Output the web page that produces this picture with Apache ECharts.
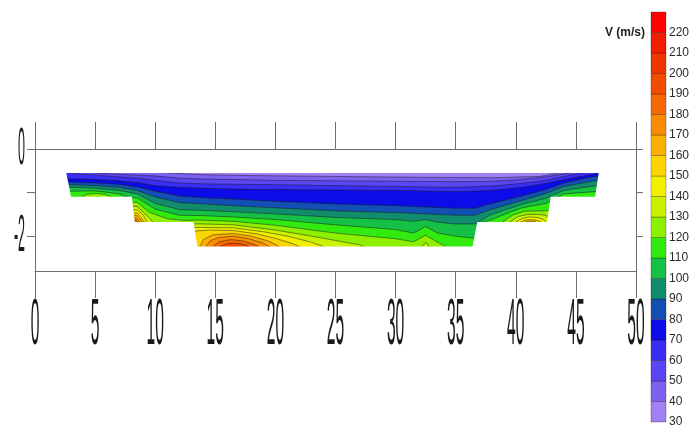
<!DOCTYPE html>
<html><head><meta charset="utf-8">
<script src="https://cdn.jsdelivr.net/npm/echarts@6/dist/echarts.min.js"></script>
<style>html,body{margin:0;padding:0;background:#fff}#c{width:692px;height:428px}</style>
</head><body><div id="c"></div>
<script>
// ---- axis ticks / labels ----
const xTicks = [0,5,10,15,20,25,30,35,40,45,50];
const yTicks = [0,-1,-2];
const yTickLabels = [0,-2];
// ---- colour levels (V, m/s) ----
const levels = [30,40,50,60,70,80,90,100,110,120,130,140,150,160,170,180,190,200,210,220];
const palette = ['#a080f4','#7c60f2','#5a46f2','#3a2ef6','#0c0ce8','#1250b4','#118c6c','#14c046','#30ea10','#8cf000',
                 '#c8f200','#f2f000','#fcd400','#fbb000','#f98c00','#f66a00','#f24c00','#f03400','#f01e00','#ff0000'];
// ---- section outline [distance, depth] ----
const section = [[2.6,-0.55],[46.9,-0.55],[46.6,-1.095],[42.9,-1.095],[42.6,-1.675],[36.8,-1.675],[36.4,-2.24],
                 [13.5,-2.24],[13.2,-1.675],[8.3,-1.675],[8.06,-1.095],[3.0,-1.095]];
// ---- contour lines [distance, depth] (region below each line has V >= level) ----
const c40 = [[0,-0.35],[10,-0.45],[11,-0.55],[14,-0.59],[18,-0.61],[25,-0.63],[32,-0.65],[38,-0.66],[42,-0.63],[43.5,-0.55],[44.5,-0.45],[50,-0.35]];
const c50 = [[0,-0.35],[4,-0.45],[5,-0.55],[7,-0.58],[8.5,-0.6],[10,-0.62],[12,-0.67],[14,-0.69],[16.5,-0.7],[20,-0.72],[25,-0.73],[30,-0.74],[35,-0.75],[38,-0.74],[40.5,-0.7],[42.5,-0.64],[44,-0.57],[44.5,-0.55],[45.5,-0.45],[50,-0.35]];
const c60 = [[0,-0.45],[2.5,-0.52],[3,-0.56],[5,-0.6],[7,-0.64],[8.5,-0.67],[10,-0.72],[12,-0.78],[14,-0.8],[16.5,-0.81],[20,-0.82],[25,-0.84],[30,-0.86],[35,-0.88],[38,-0.85],[40.5,-0.79],[42.5,-0.72],[44,-0.63],[45.5,-0.55],[46.5,-0.45],[50,-0.4]];
const c70 = [[0,-0.68],[3,-0.68],[5,-0.7],[7,-0.73],[8.5,-0.77],[10,-0.84],[12,-0.88],[14,-0.9],[16.5,-0.92],[20,-0.93],[25,-0.94],[30,-0.95],[35,-0.98],[38,-0.95],[40.5,-0.88],[42.5,-0.79],[44,-0.7],[46,-0.6],[46.8,-0.56],[47.5,-0.45],[50,-0.42]];
const c80 = [[0,-0.76],[3,-0.76],[5,-0.78],[7,-0.81],[8.5,-0.87],[10,-0.97],[12,-1.08],[14,-1.12],[16.5,-1.15],[20,-1.2],[25,-1.26],[30,-1.3],[35,-1.36],[36.6,-1.36],[38,-1.25],[40.5,-1.08],[42.5,-0.93],[44,-0.78],[46.5,-0.63],[50,-0.6]];
const c90 = [[0,-0.82],[3,-0.82],[5,-0.84],[7,-0.88],[8.5,-0.95],[10,-1.1],[12,-1.23],[14,-1.26],[16.5,-1.3],[20,-1.35],[25,-1.42],[30,-1.46],[35,-1.52],[36.6,-1.52],[38,-1.38],[40.5,-1.18],[42.5,-1.02],[44,-0.86],[46.5,-0.73],[50,-0.7]];
const c100 = [[0,-0.88],[3,-0.88],[5,-0.9],[7,-0.95],[8.5,-1.03],[10,-1.25],[12,-1.39],[14,-1.41],[16.5,-1.44],[20,-1.49],[25,-1.57],[30,-1.62],[31.5,-1.66],[32.5,-1.62],[33.5,-1.68],[35,-1.72],[36.6,-1.72],[38,-1.5],[40.5,-1.27],[42.5,-1.13],[44,-0.95],[46.5,-0.85],[50,-0.8]];
const c110 = [[0,-0.97],[3,-0.97],[5,-0.96],[7,-1.03],[7.6,-1.095],[7.9,-1.12],[8.5,-1.12],[10,-1.38],[12,-1.52],[14,-1.53],[16.5,-1.56],[20,-1.62],[25,-1.74],[30,-1.85],[31.5,-1.93],[32.5,-1.78],[33.5,-1.93],[35,-2.0],[36.6,-2.05],[37.2,-1.68],[38,-1.62],[39.5,-1.45],[40.5,-1.35],[42.5,-1.25],[44,-1.03],[46.5,-0.98],[50,-0.95]];
const c120a = [[3.6,-1.3],[3.9,-1.095],[4.3,-1.04],[5,-1.02],[5.8,-1.04],[6.3,-1.095],[6.6,-1.3]];
const c120b = [[7.9,-1.22],[8.5,-1.22],[9.5,-1.45],[11,-1.6],[12.5,-1.64],[13.5,-1.63],[16.5,-1.66],[20,-1.75],[25,-1.93],[30,-2.06],[31.5,-2.13],[32.5,-1.98],[33.5,-2.14],[34.2,-2.24],[34.5,-2.5]];
const c120c = [[38.5,-1.8],[38.9,-1.675],[39.7,-1.52],[40.7,-1.43],[41.7,-1.42],[42.4,-1.42],[42.75,-1.4],[43,-1.5]];
const c130a = [[7.9,-1.32],[8.5,-1.32],[9.0,-1.45],[9.5,-1.58],[9.8,-1.675],[10,-1.8]];
const c130b = [[13.0,-1.72],[14,-1.72],[16.5,-1.74],[20,-1.86],[23,-2.0],[25,-2.1],[27,-2.2],[27.4,-2.24],[27.6,-2.5]];
const c130v = [[32,-2.5],[32.2,-2.24],[32.5,-2.14],[32.8,-2.24],[33,-2.5]];
const c130c = [[39.2,-1.8],[39.5,-1.675],[40.2,-1.55],[41,-1.5],[41.8,-1.5],[42.4,-1.52],[42.7,-1.55],[43,-1.7]];
const c140a = [[7.9,-1.4],[8.5,-1.4],[9.0,-1.52],[9.3,-1.675],[9.5,-1.8]];
const c140b = [[13.0,-1.8],[14,-1.8],[16.5,-1.81],[19,-1.9],[21,-2.0],[23,-2.14],[24,-2.24],[24.3,-2.5]];
const c140c = [[39.8,-1.8],[40,-1.675],[40.5,-1.6],[41.1,-1.56],[41.8,-1.57],[42.3,-1.62],[42.5,-1.675],[42.7,-1.8]];
const c150a = [[7.9,-1.47],[8.5,-1.47],[8.8,-1.56],[9.1,-1.675],[9.3,-1.8]];
const c150b = [[13.1,-1.9],[13.5,-1.88],[14.5,-1.86],[16.5,-1.87],[18.5,-1.95],[20,-2.05],[21.5,-2.18],[22,-2.24],[22.3,-2.5]];
const c150c = [[40.3,-1.8],[40.4,-1.675],[40.8,-1.63],[41.3,-1.62],[41.8,-1.64],[42.1,-1.675],[42.3,-1.8]];
const c160a = [[7.9,-1.53],[8.5,-1.53],[8.75,-1.6],[8.9,-1.675],[9.1,-1.8]];
const c160b = [[13.5,-2.5],[13.7,-2.24],[14,-2.08],[14.8,-1.97],[16.5,-1.94],[18,-2.0],[19.5,-2.12],[20.3,-2.24],[20.6,-2.5]];
const c160c = [[40.6,-1.8],[40.75,-1.675],[41.1,-1.655],[41.5,-1.66],[41.7,-1.675],[41.9,-1.8]];
const c170a = [[7.9,-1.59],[8.4,-1.59],[8.6,-1.63],[8.7,-1.675],[8.9,-1.8]];
const c170b = [[14.0,-2.5],[14.2,-2.24],[14.6,-2.1],[15.3,-2.03],[16.5,-2.0],[17.8,-2.06],[19,-2.16],[19.5,-2.24],[19.8,-2.5]];
const c180a = [[7.9,-1.63],[8.35,-1.63],[8.5,-1.675],[8.6,-1.8]];
const c180b = [[14.5,-2.5],[14.8,-2.24],[15.3,-2.13],[16.3,-2.08],[17.3,-2.11],[18.3,-2.2],[18.6,-2.24],[18.9,-2.5]];
const c190b = [[15.2,-2.5],[15.4,-2.24],[16,-2.17],[16.8,-2.16],[17.5,-2.2],[17.8,-2.24],[18,-2.5]];

const contourSegments = [
  [40,c40],[50,c50],[60,c60],[70,c70],[80,c80],[90,c90],[100,c100],[110,c110],
  [120,c120a],[120,c120b],[120,c120c],
  [130,c130a],[130,c130b],[130,c130v],[130,c130c],
  [140,c140a],[140,c140b],[140,c140c],
  [150,c150a],[150,c150b],[150,c150c],
  [160,c160a],[160,c160b],[160,c160c],
  [170,c170a],[170,c170b],
  [180,c180a],[180,c180b],
  [190,c190b]
];
const colorOf = L => palette[levels.indexOf(L)];

const chart = echarts.init(document.getElementById('c'), null, {renderer:'canvas'});
const AX = '#6e6e6e';
const FONT = 'Liberation Sans';

function renderPlot(params, api){
  const P = p => api.coord(p);
  const ch = [];
  ch.push({type:'polygon', shape:{points: section.map(P)}, style:{fill: colorOf(30)}});
  contourSegments.forEach(([L, pts]) => {
    const poly = pts.concat([[pts[pts.length-1][0], -2.6],[pts[0][0], -2.6]]);
    ch.push({type:'polygon', shape:{points: poly.map(P)}, style:{fill: colorOf(L)}});
  });
  contourSegments.forEach(([L, pts]) => {
    ch.push({type:'polyline', shape:{points: pts.map(P)}, style:{stroke:'rgba(25,25,25,0.7)', lineWidth:0.7, fill:null}});
  });
  // white mask outside the section
  ch.push({type:'polygon', shape:{points: [[0,0],[50,0],[50,-0.55],[0,-0.55]].map(P)}, style:{fill:'#fff'}});
  const lower = [[0,-0.55], section[0]].concat(section.slice(2).reverse(), [section[1],[50,-0.55],[50,-2.8],[0,-2.8]]);
  ch.push({type:'polygon', shape:{points: lower.map(P)}, style:{fill:'#fff'}});
  return {type:'group', children: ch};
}

const option = {
  animation: false,
  backgroundColor: '#fff',
  title: {text:'V (m/s)', right:47, top:27, padding:0,
          textStyle:{fontSize:12, fontWeight:'bold', color:'#222', fontFamily:FONT}},
  grid: [
    {left:35, top:149, width:601, height:122},
    {left:651, top:12, width:22, height:411}
  ],
  xAxis: [
    {gridIndex:0, type:'value', min:0, max:50, interval:5, position:'bottom', z:10,
     axisLine:{show:true, onZero:false, lineStyle:{color:AX, width:1}},
     axisTick:{show:true, length:27, lineStyle:{color:AX, width:1}},
     axisLabel:{show:false}, splitLine:{show:false}},
    {gridIndex:0, type:'value', min:0, max:50, interval:5, position:'top', z:10,
     axisLine:{show:true, onZero:false, lineStyle:{color:AX, width:1}},
     axisTick:{show:true, length:27, lineStyle:{color:AX, width:1}},
     axisLabel:{show:false}, splitLine:{show:false}},
    {gridIndex:1, type:'value', min:0, max:1, show:false}
  ],
  yAxis: [
    {gridIndex:0, type:'value', min:-2.8, max:0, position:'left', z:10,
     axisLine:{show:true, onZero:false, lineStyle:{color:AX, width:1}},
     axisTick:{show:true, length:8, customValues:yTicks, lineStyle:{color:AX, width:1}},
     axisLabel:{show:false, customValues:yTicks}, splitLine:{show:false}},
    {gridIndex:0, type:'value', min:-2.8, max:0, position:'right', z:10,
     axisLine:{show:true, onZero:false, lineStyle:{color:AX, width:1}},
     axisTick:{show:true, length:7, customValues:yTicks, lineStyle:{color:AX, width:1}},
     axisLabel:{show:false, customValues:yTicks}, splitLine:{show:false}},
    {gridIndex:1, type:'value', min:30, max:230, interval:10, position:'right',
     axisLine:{show:false}, axisTick:{show:false}, splitLine:{show:false},
     axisLabel:{margin:3, fontSize:12, color:'#2a2a2a', fontFamily:FONT,
                formatter: v => (v === 230 ? '' : String(v))}}
  ],
  series: [
    {type:'custom', xAxisIndex:0, yAxisIndex:0, clip:true, z:2, silent:true,
     data:[[25,-1]], renderItem: renderPlot},
    {type:'custom', xAxisIndex:0, yAxisIndex:0, clip:false, z:3, silent:true,
     data: xTicks.map(v => [v, -2.8]),
     renderItem: (params, api) => {
       const v = api.value(0);
       const p = api.coord([v, -2.8]);
       return {type:'text', x:p[0], y:p[1]+55, scaleX:0.24,
               style:{text:String(v), fontSize:65, fontFamily:FONT, fill:'#1a1a1a', align:'center', verticalAlign:'middle'}};
     }},
    {type:'custom', xAxisIndex:0, yAxisIndex:0, clip:false, z:3, silent:true,
     data: yTickLabels.map(v => [0, v]),
     renderItem: (params, api) => {
       const v = api.value(1);
       const p = api.coord([0, v]);
       return {type:'text', x:p[0]-10, y:p[1]+1, scaleX:0.24,
               style:{text:String(v), fontSize:52, fontFamily:FONT, fill:'#1a1a1a', align:'right', verticalAlign:'middle'}};
     }},
    {type:'custom', xAxisIndex:2, yAxisIndex:2, clip:false, silent:true,
     data: levels.map(L => [0, L]),
     renderItem: (params, api) => {
       const L = api.value(1);
       const a = api.coord([0, L]), b = api.coord([1, L+10]);
       return {type:'rect', shape:{x:a[0], y:b[1], width:b[0]-a[0], height:a[1]-b[1]},
               style:{fill: colorOf(L), stroke:'rgba(40,0,0,0.35)', lineWidth:0.8}};
     }}
  ]
};
chart.setOption(option);
</script>
</body></html>
